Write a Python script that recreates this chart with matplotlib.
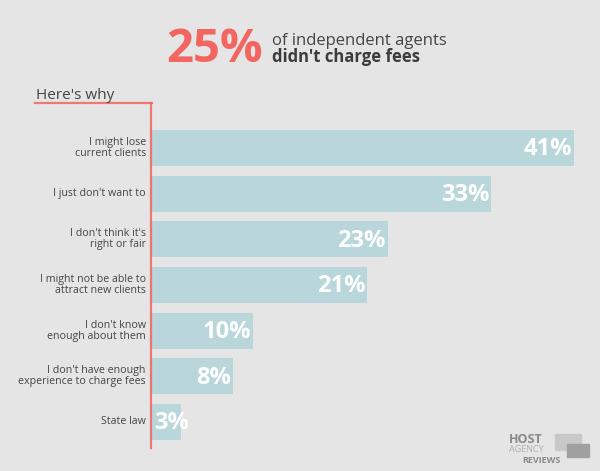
import matplotlib.pyplot as plt
from matplotlib.patches import Rectangle

reasons = ["I might lose\ncurrent clients", "I just don't want to",
           "I don't think it's\nright or fair", "I might not be able to\nattract new clients",
           "I don't know\nenough about them", "I don't have enough\nexperience to charge fees",
           "State law"]
shares = [41, 33, 23, 21, 10, 8, 3]

bg = '#e5e5e5'
red = '#f26560'
bar_col = '#b9d7db'
txt = '#454545'
plt.rcParams['font.family'] = ['Open Sans', 'DejaVu Sans']

fig = plt.figure(figsize=(6, 4.71), dpi=100, facecolor=bg)
ax = fig.add_axes([0.25, 0.0488, 0.75, 0.7325])
ax.set_facecolor('none')

ypos = list(range(len(reasons)))
ax.barh(ypos, shares, height=0.79, color=bar_col, zorder=2)
for y, v in zip(ypos, shares):
    # short bars: let the label run a little past the bar end, like the original
    ax.text(max(v, 4.0) - 0.2, y + 0.03, f'{v}%', ha='right', va='center', color='white',
            fontsize=17, fontweight='bold', zorder=3)
    ax.text(-0.4, y, reasons[y], ha='right', va='center', color=txt,
            fontsize=7.7, linespacing=1.0)

ax.set_xlim(0, 43.5)
ax.set_ylim(6.57, -0.985)
ax.axis('off')

# red guide line
fig.add_artist(plt.Line2D([151 / 600, 151 / 600], [1 - 103 / 471, 1 - 448 / 471],
                          color=red, lw=1.6, alpha=0.85))
fig.add_artist(plt.Line2D([35 / 600, 152 / 600], [1 - 103 / 471, 1 - 103 / 471],
                          color=red, lw=1.6, alpha=0.85))
fig.text(36 / 600, 1 - 99 / 471, "Here's why", color=txt, fontsize=11, va='baseline')

# headline
fig.text(166 / 600, 1 - 62 / 471, '25%', color=red, fontsize=34, fontweight='bold', va='baseline')
fig.text(272 / 600, 1 - 45 / 471, 'of independent agents', color=txt, fontsize=12, va='baseline')
fig.text(272 / 600, 1 - 62 / 471, "didn't charge fees", color='#3c3c3c', fontsize=12,
         fontweight='bold', va='baseline')

# logo
fig.add_artist(Rectangle((555 / 600, 1 - 450 / 471), 26 / 600, 16 / 471, color='#c8c8c8',
                         transform=fig.transFigure))
fig.add_artist(Rectangle((567 / 600, 1 - 457 / 471), 22 / 600, 13 / 471, color='#a0a0a0',
                         transform=fig.transFigure))
fig.text(509 / 600, 1 - 443 / 471, 'HOST', color='#8a8a8a', fontsize=9, fontweight='bold',
         va='baseline')
fig.text(509 / 600, 1 - 452.5 / 471, 'AGENCY', color='#b0b0b0', fontsize=6.5, va='baseline')
fig.text(522 / 600, 1 - 463 / 471, 'REVIEWS', color='#8a8a8a', fontsize=6.5, fontweight='bold',
         va='baseline')

fig.savefig('out.png', dpi=100, facecolor=bg)
